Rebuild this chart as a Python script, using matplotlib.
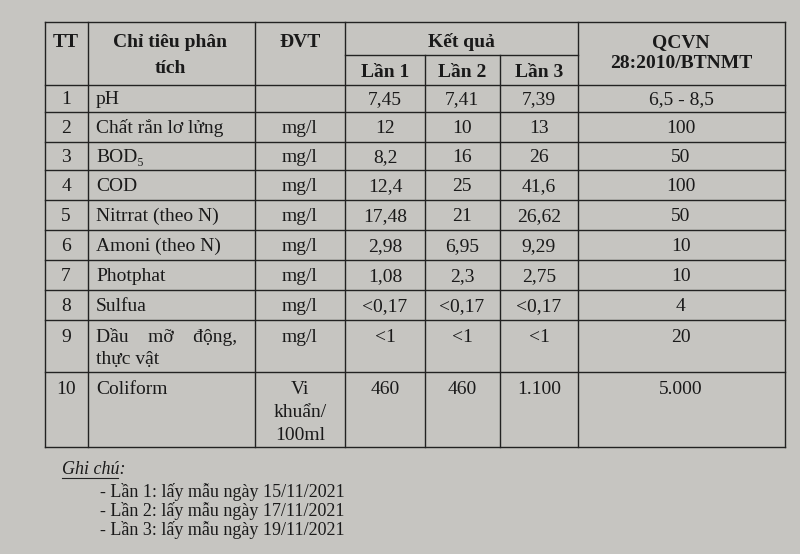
import matplotlib
matplotlib.use("Agg")
import matplotlib.pyplot as plt

tt = ["1","2","3","4","5","6","7","8","9","10"]
indicators = ["pH","Chất rắn lơ lửng","BOD₅","COD","Nitrrat (theo N)","Amoni (theo N)",
              "Photphat","Sulfua","Dầu    mỡ    động,\nthực vật","Coliform"]
units = ["","mg/l","mg/l","mg/l","mg/l","mg/l","mg/l","mg/l","mg/l","Vi\nkhuẩn/\n100ml"]
lan1 = ["7,45","12","8,2","12,4","17,48","2,98","1,08","<0,17","<1","460"]
lan2 = ["7,41","10","16","25","21","6,95","2,3","<0,17","<1","460"]
lan3 = ["7,39","13","26","41,6","26,62","9,29","2,75","<0,17","<1","1.100"]
qcvn = ["6,5 - 8,5","100","50","100","50","10","10","4","20","5.000"]
notes = ["- Lần 1: lấy mẫu ngày 15/11/2021","- Lần 2: lấy mẫu ngày 17/11/2021","- Lần 3: lấy mẫu ngày 19/11/2021"]

fig = plt.figure(figsize=(8,5.54), dpi=100, facecolor="#c6c5c1")
ax = fig.add_axes([0,0,1,1]); ax.set_xlim(0,800); ax.set_ylim(554,0); ax.axis("off")
F = dict(family="Liberation Serif", color="#1a1a1a")
xs = [45,88,255,345,425,500,578,785]
ys = [22,55,85,112,142,170,200,230,260,290,320,372,447]
lw = 1.0; c = "#222"
for i,y in enumerate(ys):
    if i == 1:
        ax.plot([xs[3],xs[6]],[y,y],color=c,lw=lw)
    else:
        ax.plot([xs[0],xs[-1]],[y,y],color=c,lw=lw)
for j,x in enumerate(xs):
    if j in (4,5):
        ax.plot([x,x],[ys[1],ys[-1]],color=c,lw=lw)
    else:
        ax.plot([x,x],[ys[0],ys[-1]],color=c,lw=lw)
hb = dict(fontsize=14, fontweight="bold", va="baseline", **F)
ax.text(66,47,"TT",ha="center",**hb)
ax.text(170,47,"Chỉ tiêu phân",ha="center",**hb)
ax.text(170,73,"tích",ha="center",**hb)
ax.text(300,47,"ĐVT",ha="center",**hb)
ax.text(461,47,"Kết quả",ha="center",**hb)
for k,x in enumerate([385,462,539]):
    ax.text(x,77,f"Lần {k+1}",ha="center",**hb)
ax.text(681,47,"QCVN",ha="center",**hb)
ax.text(681,68,"28:2010/BTNMT",ha="center",**hb)
bf = dict(fontsize=14, va="baseline", **F)
for i in range(10):
    y0,y1 = ys[i+2],ys[i+3]
    yb = y0+22 if i>=8 else (y0+y1)/2+6
    ax.text(66,yb,tt[i],ha="center",**bf)
    ind = indicators[i].split("\n")
    for k,s in enumerate(ind):
        ax.text(96,yb+k*22,s,ha="left",**bf)
    for k,s in enumerate(units[i].split("\n")):
        ax.text(300,yb+k*23,s,ha="center",**bf)
    for x,v in zip([385,462,539,681],[lan1[i],lan2[i],lan3[i],qcvn[i]]):
        ax.text(x,yb,v,ha="center",**bf)
ax.text(62,474,"Ghi chú:",ha="left",va="baseline",fontsize=13,style="italic",**F)
ax.plot([62,118],[478,478],color=c,lw=0.8)
for k,n in enumerate(notes):
    ax.text(100,497+k*19,n,ha="left",va="baseline",fontsize=13,**F)
fig.savefig("out.png",dpi=100,facecolor=fig.get_facecolor())
